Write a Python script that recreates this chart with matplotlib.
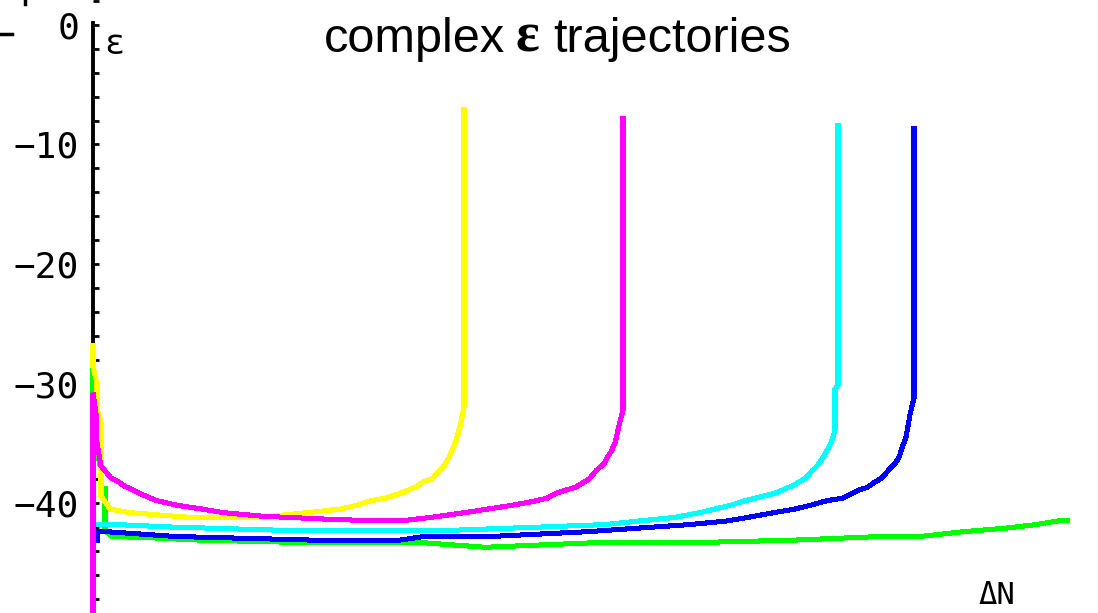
import matplotlib.pyplot as plt
from matplotlib.lines import Line2D
from matplotlib.ticker import FixedLocator, MultipleLocator

# Trajectories of complex epsilon against Delta N (one list pair per run)
yellow_dn = [0.0, 0.0, 0.4, 0.4, 0.8, 0.8, 1.7, 3.6, 9.7, 16.7, 21.5, 24.8, 26.3, 27.8,
             29.2, 30.7, 31.6, 32.4, 33.1, 33.9, 34.4, 35.0, 35.6, 35.9, 36.3, 36.7,
             37.1, 37.1]
yellow_eps = [-26.8, -28.6, -30.0, -32.0, -33.3, -39.4, -40.5, -40.8, -41.2, -41.2, -40.8,
              -40.5, -40.2, -39.8, -39.6, -39.2, -38.9, -38.6, -38.2, -38.0, -37.5, -37.0,
              -36.2, -35.6, -34.8, -33.6, -32.0, -7.1]

green_dn = [0.0, 0.0, 0.4, 0.4, 0.8, 0.8, 1.2, 1.2, 1.9, 5.7, 10.7, 20.7, 32.7, 39.2,
            50.7, 60.7, 70.2, 78.7, 82.7, 87.0, 91.3, 94.3, 96.5, 97.4]
green_eps = [-28.6, -30.8, -32.0, -35.6, -37.2, -38.8, -38.8, -42.3, -42.8, -42.9, -43.1,
             -43.3, -43.3, -43.7, -43.3, -43.3, -43.1, -42.8, -42.8, -42.4, -42.1, -41.8,
             -41.5, -41.5]

cyan_dn = [0.2, 2.3, 7.6, 19.7, 35.2, 45.0, 51.2, 55.8, 58.2, 60.7, 62.2, 63.7, 65.2,
           66.7, 68.1, 69.0, 69.8, 70.5, 71.1, 71.5, 71.9, 72.3, 72.6, 73.0, 73.4, 73.8,
           74.2, 74.2, 74.5, 74.5]
cyan_eps = [-41.8, -41.8, -42.0, -42.3, -42.3, -42.0, -41.8, -41.4, -41.2, -40.8, -40.5,
            -40.2, -39.8, -39.5, -39.2, -38.9, -38.6, -38.3, -38.0, -37.7, -37.3, -37.0,
            -36.7, -36.2, -35.6, -35.0, -33.9, -30.5, -30.1, -8.4]

blue_dn = [0.4, 0.4, 1.4, 8.3, 21.9, 30.7, 33.1, 39.7, 49.4, 54.5, 59.7, 63.4, 65.5,
           68.1, 70.2, 71.7, 73.4, 74.9, 75.9, 76.6, 77.4, 78.1, 78.7, 79.1, 79.5, 79.8,
           80.2, 80.6, 80.9, 81.3, 81.7, 82.1, 82.1]
blue_eps = [-43.1, -42.4, -42.4, -42.8, -43.1, -43.1, -42.8, -42.8, -42.4, -42.1, -41.8,
            -41.5, -41.2, -40.8, -40.5, -40.2, -39.8, -39.6, -39.2, -38.9, -38.7, -38.3,
            -38.0, -37.7, -37.3, -37.0, -36.7, -36.2, -35.4, -34.5, -32.6, -31.2, -8.7]

magenta_dn = [0.0, 0.0, 0.3, 0.4, 0.8, 1.4, 1.8, 2.5, 3.2, 4.0, 4.7, 5.5, 6.4, 8.5,
              10.9, 13.0, 16.9, 24.7, 30.7, 33.8, 37.2, 39.5, 41.8, 43.8, 45.4, 46.3,
              47.3, 48.2, 49.0, 49.6, 49.9, 50.3, 50.7, 51.1, 51.4, 51.8, 52.2, 52.6,
              53.0, 53.0]
magenta_eps = [-52.0, -30.8, -32.5, -35.0, -36.9, -37.5, -37.9, -38.2, -38.6, -38.9,
               -39.2, -39.5, -39.8, -40.2, -40.5, -40.8, -41.1, -41.4, -41.5, -41.2,
               -40.8, -40.5, -40.2, -39.9, -39.6, -39.2, -38.9, -38.7, -38.3, -38.0,
               -37.7, -37.3, -37.0, -36.7, -36.2, -35.7, -35.0, -33.5, -32.2, -7.8]

y_major = [0, -10, -20, -30, -40]


def plot_trajectories():
    fig = plt.figure(figsize=(10.98, 6.13), dpi=100)
    ax = fig.add_axes([0, 0, 1, 1])

    series = [
        (green_dn, green_eps, '#00ff00'),
        (yellow_dn, yellow_eps, '#ffff00'),
        (cyan_dn, cyan_eps, '#00ffff'),
        (blue_dn, blue_eps, '#0000ff'),
        (magenta_dn, magenta_eps, '#ff00ff'),
    ]
    for dn, eps, col in series:
        ax.plot(dn, eps, color=col, lw=2.9, antialiased=False, zorder=3,
                solid_joinstyle='miter')

    ax.set_xlim(-9.3, 100.5)
    ax.set_ylim(-49.2, 2.09)

    # only the epsilon axis is drawn, at Delta N = 0
    for side in ['top', 'right', 'bottom']:
        ax.spines[side].set_visible(False)
    ax.spines['left'].set_position(('data', 0))
    ax.spines['left'].set_bounds(-49.2, 0.15)
    ax.spines['left'].set_linewidth(2.8)
    ax.spines['left'].set_zorder(2.5)

    ax.xaxis.set_visible(False)
    ax.yaxis.set_major_locator(FixedLocator(y_major))
    ax.yaxis.set_minor_locator(MultipleLocator(2))
    ax.tick_params(axis='y', which='both', direction='in', length=4.5, width=2,
                   pad=10)
    ax.tick_params(axis='y', which='major', labelsize=26)
    for lbl in ax.get_yticklabels():
        lbl.set_family('DejaVu Sans Mono')

    ax.text(2.15, -1.6, 'ε', fontsize=24, family='DejaVu Sans Mono',
            ha='center', va='center')
    ax.text(90.4, -47.7, 'ΔN', fontsize=22, family='DejaVu Sans Mono',
            ha='center', va='center')

    # bits of axis poking in at the top left corner
    fig.add_artist(Line2D([0, 12 / 1098], [1 - 34 / 613] * 2, color='black', lw=2.5))
    fig.add_artist(Line2D([24.5 / 1098] * 2, [1, 1 - 4 / 613], color='black', lw=2.5))

    # title, with a serif epsilon between the words
    base = 1 - 52 / 613
    fig.text(505 / 1098, base, 'complex', fontsize=35, family='Liberation Sans',
             ha='right', va='baseline')
    fig.text(527 / 1098, base, 'ε', fontsize=40, family='Liberation Serif',
             weight='bold', ha='center', va='baseline')
    fig.text(553 / 1098, base, 'trajectories', fontsize=35, family='Liberation Sans',
             ha='left', va='baseline')

    fig.savefig('out.png', dpi=100)


if __name__ == "__main__":
    plot_trajectories()
